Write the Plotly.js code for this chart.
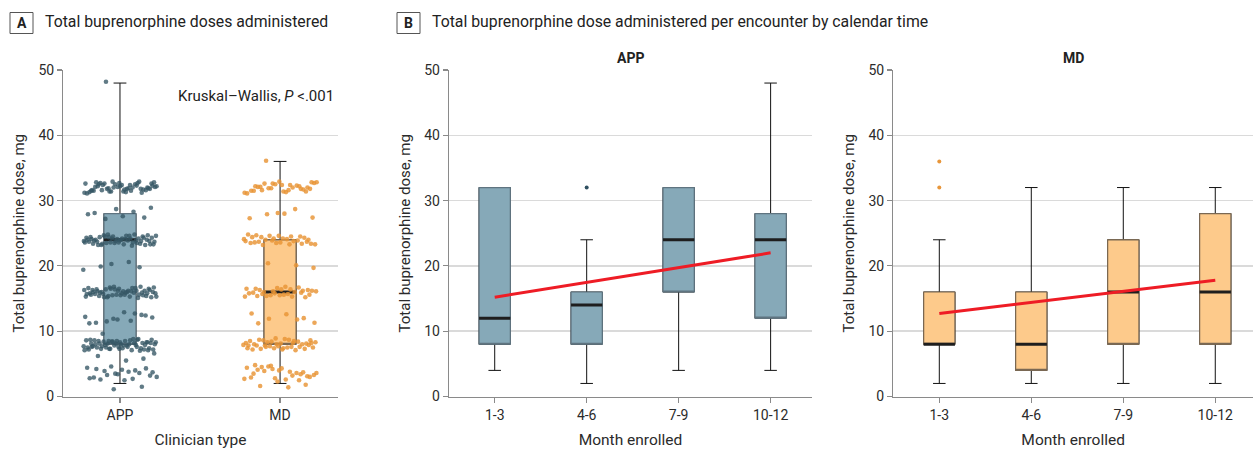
<!DOCTYPE html>
<html>
<head>
<meta charset="utf-8">
<script src="https://cdn.plot.ly/plotly-3.0.1.min.js"></script>
<style>
  html, body { margin: 0; padding: 0; background: #fff; }
  #chart { width: 1254px; height: 450px; }
</style>
</head>
<body>
<div id="chart"></div>
<script>
// ---------------- DATA ----------------
const clinicianTypes = ['APP', 'MD'];
const monthCats = ['1-3', '4-6', '7-9', '10-12'];
const yTicks = [0, 10, 20, 30, 40, 50];

// Panel A box statistics (mg)
const overallQ1 = [8, 8];
const overallMedian = [24, 16];
const overallQ3 = [28, 24];
const overallLow = [2, 2];
const overallHigh = [48, 36];

// Panel A jittered encounter doses (mg)
const appDoses = [
  48.2,
  32.6, 31.4, 32.1, 31.8, 32.9, 31.2, 32.4, 31.6, 32.0, 32.7, 31.5, 32.3, 31.9, 32.8, 31.3, 32.2, 31.7, 32.5, 31.1, 32.0,
  32.6, 31.8, 32.4, 31.5, 32.9, 31.4, 32.2, 31.9, 32.7, 31.6, 32.1, 31.3, 32.5, 31.8, 32.3, 31.7, 32.8, 31.2, 32.0, 32.6,
  31.5, 32.4, 31.9, 32.2, 31.6, 32.7, 31.4, 32.1, 31.8, 32.5,
  27.4, 28.7, 27.9, 28.3, 27.2, 28.9, 27.6, 28.1,
  23.4, 24.2, 23.8, 24.6, 23.2, 24.0, 23.6, 24.4, 23.9, 24.8, 23.3, 24.1, 23.7, 24.5, 23.5, 24.3, 23.1, 24.7, 23.8, 24.0,
  23.4, 24.2, 23.6, 24.6, 23.9, 24.4, 23.2, 24.1, 23.7, 24.8, 23.5, 24.3, 23.3, 24.0, 23.8, 24.5, 23.6, 24.2, 23.4, 24.7,
  23.9, 24.1, 23.5, 24.4, 23.7, 24.6, 23.2, 24.3, 23.8, 24.0, 23.6, 24.5, 23.3, 24.2, 23.9,
  19.8, 20.3, 19.4, 20.6, 19.9,
  15.4, 16.2, 15.8, 16.6, 15.2, 16.0, 15.6, 16.4, 15.9, 16.8, 15.3, 16.1, 15.7, 16.5, 15.5, 16.3, 15.1, 16.7, 15.8, 16.0,
  15.4, 16.2, 15.6, 16.6, 15.9, 16.4, 15.2, 16.1, 15.7, 16.8, 15.5, 16.3, 15.3, 16.0, 15.8, 16.5, 15.6, 16.2, 15.4, 16.7,
  15.9, 16.1, 15.5, 16.4, 15.7, 16.6, 15.2, 16.3, 15.8, 16.0, 15.6, 16.5, 15.3, 16.2, 15.9,
  12.4, 11.8, 11.2, 12.7, 11.5, 12.1, 12.9, 11.3, 12.5, 11.9, 12.2, 11.6,
  9.6,
  7.1, 8.3, 7.6, 8.7, 7.3, 8.0, 7.8, 8.5, 7.2, 8.1, 7.5, 8.8, 7.9, 8.2, 7.4, 8.6, 7.0, 8.4, 7.7, 8.0,
  7.3, 8.3, 7.6, 8.7, 7.9, 8.1, 7.2, 8.5, 7.5, 8.2, 7.8, 8.6, 7.1, 8.4, 7.4, 8.0, 7.7, 8.8, 7.3, 8.3,
  7.6, 8.1, 7.9, 8.5, 7.2, 8.2, 7.5, 8.7, 7.8, 8.0, 7.4, 8.4, 7.1, 8.6, 7.7, 8.3, 7.3, 8.1, 7.6, 8.5,
  6.6, 5.5, 6.2, 5.8,
  3.5, 4.4, 2.7, 3.9, 3.2, 4.1, 2.9, 3.6, 4.6, 3.0, 3.8, 2.6, 4.3, 3.4, 2.8, 4.0, 3.3, 3.7, 2.5, 4.2,
  1.5, 1.1
];
const mdDoses = [
  36.1,
  32.8, 31.4, 32.2, 31.8, 32.6, 31.2, 32.4, 31.6, 32.0, 32.9, 31.5, 32.3, 31.9, 32.7, 31.3, 32.1, 31.7, 32.5, 31.1, 32.0,
  32.6, 31.8, 32.4, 31.5, 32.2, 31.9, 32.8, 31.6, 32.1, 31.4,
  28.1, 27.3, 28.7, 27.9, 27.4, 28.0,
  24.7, 23.4, 24.2, 23.8, 24.5, 23.2, 24.0, 23.6, 24.4, 23.9, 24.6, 23.3, 24.1, 23.7, 24.3, 23.5, 24.8, 23.8, 24.0, 23.4,
  24.2, 23.6, 24.5, 23.9, 24.1, 23.3, 24.4, 23.7, 24.6, 23.5,
  20.1, 20.4, 19.7,
  16.8, 15.4, 16.2, 15.8, 16.5, 15.3, 16.0, 15.6, 16.4, 15.9, 16.7, 15.5, 16.1, 15.7, 16.3, 15.2, 16.6, 15.8, 16.0, 15.4,
  16.2, 15.6, 16.5, 15.9, 16.1, 15.3, 16.4, 15.7, 16.3, 15.5,
  12.7, 11.8, 11.9, 11.3, 12.6, 11.2, 12.0,
  8.9, 7.4, 8.2, 7.8, 8.6, 7.2, 8.0, 7.6, 8.4, 7.9, 8.7, 7.3, 8.1, 7.7, 8.5, 7.1, 8.3, 7.5, 8.8, 7.8,
  8.0, 7.4, 8.2, 7.6, 8.6, 7.9, 8.1, 7.2, 8.4, 7.7, 8.3, 7.5, 8.7, 7.3, 8.0, 7.8, 8.5, 7.6, 8.2, 7.4,
  4.8, 3.4, 4.2, 2.7, 3.8, 4.5, 3.1, 4.0, 2.9, 3.6, 4.6, 3.3, 2.6, 4.1, 3.7, 2.8, 4.4, 3.2, 3.9, 3.0,
  4.3, 3.5, 2.5, 4.7, 3.6,
  1.4, 1.6, 1.8, 2.3
];

// Panel B box statistics by month enrolled (mg)
const appQ1 = [8, 8, 16, 12];
const appMedian = [12, 14, 24, 24];
const appQ3 = [32, 16, 32, 28];
const appLow = [4, 2, 4, 4];
const appHigh = [32, 24, 32, 48];
const appOutlierMonth = ['4-6'];
const appOutlierDose = [32];
const appTrendMonth = ['1-3', '10-12'];
const appTrendDose = [15.2, 22.0];

const mdQ1 = [8, 4, 8, 8];
const mdMedian = [8, 8, 16, 16];
const mdQ3 = [16, 16, 24, 28];
const mdLow = [2, 2, 2, 2];
const mdHigh = [24, 32, 32, 32];
const mdOutlierMonth = ['1-3', '1-3'];
const mdOutlierDose = [32, 36];
const mdTrendMonth = ['1-3', '10-12'];
const mdTrendDose = [12.7, 17.8];

// ---------------- STYLE ----------------
const W = 1254, H = 450;
const px = v => v / W;
const py = v => 1 - v / H;
const FONT = 'Roboto, "Open Sans", sans-serif';
const TXT = '#2b2b2b';
const APP_FILL = '#86a9b8', APP_EDGE = '#5f7480', APP_PT = 'rgba(52,86,100,0.78)';
const MD_FILL = '#fdca8b', MD_EDGE = '#7a6853', MD_PT = 'rgba(232,148,52,0.82)';

// deterministic horizontal spread for jittered points (layout only)
function spread(n, center, half) {
  const out = [];
  for (let i = 0; i < n; i++) {
    const f = (i * 0.6180339887 + 0.31) % 1;
    out.push(center + (f - 0.5) * 2 * half);
  }
  return out;
}

function boxSet(xa, ya, xs, q1, med, q3, lo, hi, fill, edge, width) {
  const common = { type: 'box', xaxis: xa, yaxis: ya, x: xs, width: width, boxpoints: false,
                   hoverinfo: 'skip', showlegend: false };
  return [
    Object.assign({}, common, { q1: q1, median: med, q3: q3, lowerfence: lo, upperfence: hi,
      fillcolor: fill, line: { color: '#111', width: 1 }, whiskerwidth: 0.4 }),
    Object.assign({}, common, { q1: q1, median: q1, q3: q3, lowerfence: q1, upperfence: q3,
      fillcolor: fill, line: { color: edge, width: 1.2 }, whiskerwidth: 0 }),
    Object.assign({}, common, { q1: med, median: med, q3: med, lowerfence: med, upperfence: med,
      fillcolor: 'rgba(0,0,0,0)', line: { color: '#1e1e1e', width: 3 }, whiskerwidth: 0 })
  ];
}

const traces = [];
// Panel A
const posA = clinicianTypes.map((c, i) => i);
traces.push(...boxSet('x', 'y', [posA[0]], [overallQ1[0]], [overallMedian[0]], [overallQ3[0]],
  [overallLow[0]], [overallHigh[0]], APP_FILL, APP_EDGE, 0.2));
traces.push(...boxSet('x', 'y', [posA[1]], [overallQ1[1]], [overallMedian[1]], [overallQ3[1]],
  [overallLow[1]], [overallHigh[1]], MD_FILL, MD_EDGE, 0.2));
traces.push({ type: 'scatter', mode: 'markers', xaxis: 'x', yaxis: 'y',
  x: spread(appDoses.length, posA[0], 0.23), y: appDoses,
  marker: { color: APP_PT, size: 4.6 }, hoverinfo: 'skip', showlegend: false });
traces.push({ type: 'scatter', mode: 'markers', xaxis: 'x', yaxis: 'y',
  x: spread(mdDoses.length, posA[1], 0.23), y: mdDoses,
  marker: { color: MD_PT, size: 4.6 }, hoverinfo: 'skip', showlegend: false });

// Panel B - APP
traces.push(...boxSet('x2', 'y2', monthCats, appQ1, appMedian, appQ3, appLow, appHigh, APP_FILL, APP_EDGE, 0.34));
traces.push({ type: 'scatter', mode: 'markers', xaxis: 'x2', yaxis: 'y2', x: appOutlierMonth, y: appOutlierDose,
  marker: { color: '#2f5060', size: 4 }, hoverinfo: 'skip', showlegend: false });
traces.push({ type: 'scatter', mode: 'lines', xaxis: 'x2', yaxis: 'y2', x: appTrendMonth, y: appTrendDose,
  line: { color: '#ee1c25', width: 3 }, hoverinfo: 'skip', showlegend: false });

// Panel B - MD
traces.push(...boxSet('x3', 'y3', monthCats, mdQ1, mdMedian, mdQ3, mdLow, mdHigh, MD_FILL, MD_EDGE, 0.34));
traces.push({ type: 'scatter', mode: 'markers', xaxis: 'x3', yaxis: 'y3', x: mdOutlierMonth, y: mdOutlierDose,
  marker: { color: '#e8963a', size: 4 }, hoverinfo: 'skip', showlegend: false });
traces.push({ type: 'scatter', mode: 'lines', xaxis: 'x3', yaxis: 'y3', x: mdTrendMonth, y: mdTrendDose,
  line: { color: '#ee1c25', width: 3 }, hoverinfo: 'skip', showlegend: false });

const yDom = [py(396.5), py(70)];
function yAxis(anchor, standoff) {
  return {
    domain: yDom, anchor: anchor, range: [0, 50], tickvals: yTicks, ticktext: yTicks.map(String),
    showgrid: true, gridcolor: '#dadada', gridwidth: 1.6, zeroline: false,
    showline: true, linecolor: '#8a8a8a', linewidth: 1.3, ticks: 'outside', ticklen: 5,
    tickcolor: '#8a8a8a', tickwidth: 1.2, tickfont: { family: FONT, size: 14, color: TXT },
    title: { text: 'Total buprenorphine dose, mg', font: { family: FONT, size: 15, color: TXT }, standoff: standoff },
    fixedrange: true
  };
}
function xBase(anchor, dom) {
  return {
    domain: dom, anchor: anchor, showgrid: false, zeroline: false, showline: true,
    linecolor: '#8a8a8a', linewidth: 1.3, ticks: 'outside', ticklen: 5, tickcolor: '#8a8a8a', tickwidth: 1.2,
    tickfont: { family: FONT, size: 14, color: TXT }, fixedrange: true
  };
}

const layout = {
  width: W, height: H, margin: { l: 0, r: 0, t: 0, b: 0 },
  paper_bgcolor: '#fff', plot_bgcolor: '#fff', boxmode: 'overlay', showlegend: false,
  font: { family: FONT, color: TXT },
  xaxis: Object.assign(xBase('y', [px(63.3), px(337.7)]), {
    type: 'linear', range: [-0.354, 1.36], tickvals: posA, ticktext: clinicianTypes,
    title: { text: 'Clinician type', font: { family: FONT, size: 15.5, color: TXT }, standoff: 12 } }),
  yaxis: yAxis('x', 10),
  xaxis2: Object.assign(xBase('y2', [px(449), px(812)]), {
    type: 'category', categoryorder: 'array', categoryarray: monthCats, range: [-0.497, 3.45],
    title: { text: 'Month enrolled', font: { family: FONT, size: 15.5, color: TXT }, standoff: 12 } }),
  yaxis2: yAxis('x2', 10),
  xaxis3: Object.assign(xBase('y3', [px(893.3), px(1253)]), {
    type: 'category', categoryorder: 'array', categoryarray: monthCats, range: [-0.5, 3.41],
    title: { text: 'Month enrolled', font: { family: FONT, size: 15.5, color: TXT }, standoff: 12 } }),
  yaxis3: yAxis('x3', 10),
  shapes: [
    { type: 'rect', xref: 'paper', yref: 'paper', x0: px(10), x1: px(33), y0: py(33.5), y1: py(12.5),
      line: { color: '#555', width: 1 } },
    { type: 'rect', xref: 'paper', yref: 'paper', x0: px(397), x1: px(420), y0: py(33.5), y1: py(12.5),
      line: { color: '#555', width: 1 } }
  ],
  annotations: [
    { xref: 'paper', yref: 'paper', x: px(21.5), y: py(23), text: '<b>A</b>', showarrow: false,
      xanchor: 'center', yanchor: 'middle', font: { family: FONT, size: 14, color: '#222' } },
    { xref: 'paper', yref: 'paper', x: px(43), y: py(22), text: 'Total buprenorphine doses administered',
      showarrow: false, xanchor: 'left', yanchor: 'middle', font: { family: FONT, size: 15.8, color: '#222' } },
    { xref: 'paper', yref: 'paper', x: px(408.5), y: py(23), text: '<b>B</b>', showarrow: false,
      xanchor: 'center', yanchor: 'middle', font: { family: FONT, size: 14, color: '#222' } },
    { xref: 'paper', yref: 'paper', x: px(430), y: py(22),
      text: 'Total buprenorphine dose administered per encounter by calendar time',
      showarrow: false, xanchor: 'left', yanchor: 'middle', font: { family: FONT, size: 15.8, color: '#222' } },
    { xref: 'paper', yref: 'paper', x: px(630.5), y: py(58), text: '<b>APP</b>', showarrow: false,
      xanchor: 'center', yanchor: 'middle', font: { family: FONT, size: 14, color: '#222' } },
    { xref: 'paper', yref: 'paper', x: px(1073), y: py(58), text: '<b>MD</b>', showarrow: false,
      xanchor: 'center', yanchor: 'middle', font: { family: FONT, size: 14, color: '#222' } },
    { xref: 'paper', yref: 'paper', x: px(336), y: py(96), text: 'Kruskal–Wallis, <i>P</i> <.001',
      showarrow: false, xanchor: 'right', yanchor: 'middle', font: { family: FONT, size: 15, color: '#222' } }
  ]
};

Plotly.newPlot('chart', traces, layout, { staticPlot: true, displayModeBar: false });
</script>
</body>
</html>
